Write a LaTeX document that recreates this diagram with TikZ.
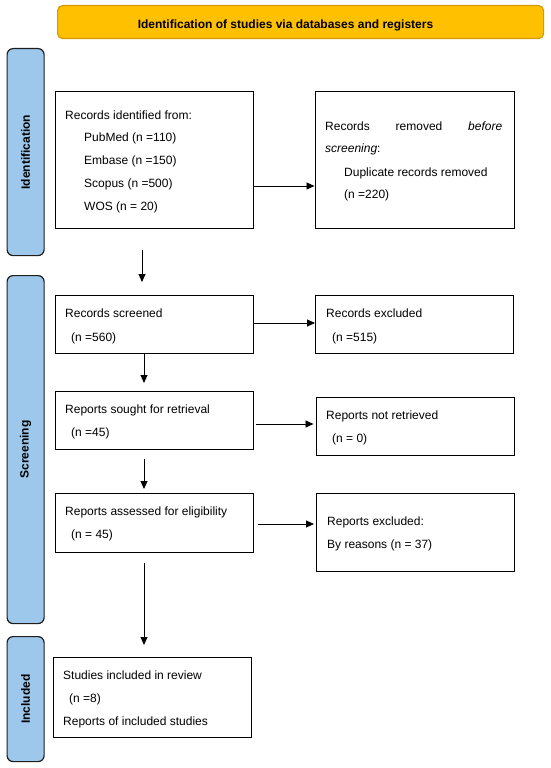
\documentclass[tikz,border=0pt]{standalone}
\usepackage{fontspec}
\setmainfont{Liberation Sans}
\usetikzlibrary{arrows.meta}
\definecolor{hdrfill}{HTML}{FFC000}
\definecolor{hdrline}{HTML}{D49A00}
\definecolor{sidefill}{HTML}{9DC8EB}
\definecolor{sideline}{HTML}{1E1E1E}
\tikzset{
  box/.style={draw=black, line width=1.3pt, rectangle, anchor=north west, inner sep=0pt},
  side/.style={draw=sideline, fill=sidefill, line width=1.2pt, rounded corners=6pt, anchor=north west, inner sep=0pt},
  sidelabel/.style={rotate=90, font=\fontsize{12}{14}\selectfont\bfseries},
  txt/.style={anchor=base west, inner sep=0pt, font=\fontsize{12}{14}\selectfont},
  arr/.style={line width=0.9pt, -{Triangle[length=8pt,width=7pt]}},
}
\begin{document}
\begin{tikzpicture}[x=1pt,y=-1pt]
\useasboundingbox (0,0) rectangle (550,768);
% header
\node[draw=hdrline, fill=hdrfill, line width=1.2pt, rounded corners=5pt, anchor=north west, inner sep=0pt,
      minimum width=486pt, minimum height=33pt] (hdr) at (57,5) {};
\node[anchor=base, inner sep=0pt, font=\fontsize{12}{14}\selectfont\bfseries] (hdrt) at (285.5,29)
      {Identification of studies via databases and registers};
% side bars
\node[side, minimum width=37pt, minimum height=207pt] (sid) at (6.5,48) {};
\node[sidelabel] (sidl) at (sid.center) {Identification};
\node[side, minimum width=37pt, minimum height=348pt] (sscr) at (6.5,275) {};
\node[sidelabel] (sscrl) at (sscr.center) {Screening};
\node[side, minimum width=37pt, minimum height=125pt] (sinc) at (6.5,636) {};
\node[sidelabel] (sincl) at (sinc.center) {Included};
% boxes
\node[box, minimum width=198pt, minimum height=137pt] (A) at (54.5,91) {};
\node[box, minimum width=199pt, minimum height=137pt] (B) at (314.5,91) {};
\node[box, minimum width=198pt, minimum height=58pt] (C) at (54.5,295) {};
\node[box, minimum width=198pt, minimum height=58pt] (D) at (315,295) {};
\node[box, minimum width=198pt, minimum height=58pt] (E) at (54.5,391) {};
\node[box, minimum width=198pt, minimum height=58pt] (F) at (315.5,397) {};
\node[box, minimum width=198pt, minimum height=59pt] (G) at (54.5,493) {};
\node[box, minimum width=198pt, minimum height=78pt] (H) at (316,493) {};
\node[box, minimum width=198pt, minimum height=80pt] (I) at (52.5,657) {};
% texts
\node[txt] (a1) at (65,119) {Records identified from:};
\node[txt] (a2) at (84,141) {PubMed (n =110)};
\node[txt] (a3) at (84,164) {Embase (n =150)};
\node[txt] (a4) at (84,187) {Scopus (n =500)};
\node[txt] (a5) at (84,210) {WOS (n = 20)};
\node[txt] (b1) at (325,130.5) {\makebox[177pt][l]{Records\hfill removed\hfill \textit{before}}};
\node[txt] (b2) at (325,152.5) {\textit{screening}:};
\node[txt] (b3) at (344,176) {Duplicate records removed};
\node[txt] (b4) at (344,198.5) {(n =220)};
\node[txt] (c1) at (65,317) {Records screened};
\node[txt] (c2) at (71,341) {(n =560)};
\node[txt] (d1) at (326,317) {Records excluded};
\node[txt] (d2) at (332,341) {(n =515)};
\node[txt] (e1) at (65,413) {Reports sought for retrieval};
\node[txt] (e2) at (71,436) {(n =45)};
\node[txt] (f1) at (326,419) {Reports not retrieved};
\node[txt] (f2) at (332,442) {(n = 0)};
\node[txt] (g1) at (65,515) {Reports assessed for eligibility};
\node[txt] (g2) at (71,538) {(n = 45)};
\node[txt] (h1) at (327,525) {Reports excluded:};
\node[txt] (h2) at (327,548) {By reasons (n = 37)};
\node[txt] (i1) at (63,679) {Studies included in review};
\node[txt] (i2) at (69,702) {(n =8)};
\node[txt] (i3) at (63,725) {Reports of included studies};
% arrow end coordinates
\coordinate (ac1) at (142,250);
\coordinate (ac2) at (142,282);
\coordinate (ce2) at (144,383);
\coordinate (eg1) at (144,459);
\coordinate (eg2) at (144,489);
\coordinate (gi1) at (144,563);
\coordinate (gi2) at (144,645);
% connectors
\draw[arr] (A.east |- 0,186) -- (B.west |- 0,186);
\draw[arr] (C.east |- 0,323) -- (D.west |- 0,323);
\draw[arr] ([xshift=2pt]E.east |- 0,424) -- ([xshift=-2pt]F.west |- 0,424);
\draw[arr] ([xshift=4pt]G.east |- 0,524) -- ([xshift=-2pt]H.west |- 0,524);
\draw[arr] (ac1) -- (ac2);
\draw[arr] (C.south -| ce2) -- (ce2);
\draw[arr] (eg1) -- (eg2);
\draw[arr] (gi1) -- (gi2);
\end{tikzpicture}
\end{document}
